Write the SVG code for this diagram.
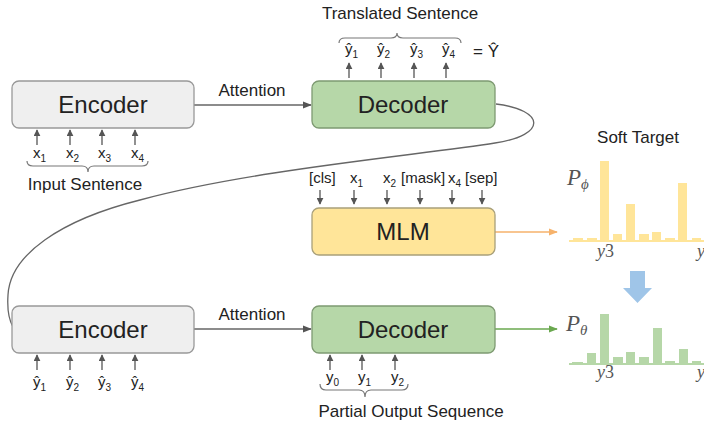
<svg xmlns="http://www.w3.org/2000/svg" width="704" height="425" viewBox="0 0 704 425">
<defs>
<marker id="ah" viewBox="0 0 10 10" refX="9" refY="5" markerWidth="7" markerHeight="7" markerUnits="userSpaceOnUse" orient="auto"><path d="M0,0 L10,5 L0,10 z" fill="#555"/></marker>
<marker id="ahs" viewBox="0 0 10 10" refX="9" refY="5" markerWidth="9" markerHeight="9" markerUnits="userSpaceOnUse" orient="auto"><path d="M0,1 L10,5 L0,9 z" fill="#555"/></marker>
<marker id="aho" viewBox="0 0 10 10" refX="9" refY="5" markerWidth="9" markerHeight="9" markerUnits="userSpaceOnUse" orient="auto"><path d="M0,1 L10,5 L0,9 z" fill="#f6b26b"/></marker>
<marker id="ahg" viewBox="0 0 10 10" refX="9" refY="5" markerWidth="9" markerHeight="9" markerUnits="userSpaceOnUse" orient="auto"><path d="M0,1 L10,5 L0,9 z" fill="#6aa84f"/></marker>
</defs>
<style>
text{font-family:"Liberation Sans",Arial,sans-serif;fill:#222}
.big{font-size:24px;text-anchor:middle}
.lbl{font-size:17px;text-anchor:middle}
.tok{font-size:15px}
.sub{font-size:10px}
.enc{fill:#efefef;stroke:#999;stroke-width:1.3}
.dec{fill:#b6d7a8;stroke:#7e9a72;stroke-width:1.3}
.mlm{fill:#ffe599;stroke:#a9a07a;stroke-width:1.3}
.ar{stroke:#555;stroke-width:1.3;fill:none;marker-end:url(#ah)}
.main{stroke:#666;stroke-width:1.3;fill:none}
.brace{stroke:#777;stroke-width:1.2;fill:none}
.math{font-family:"Liberation Serif","Times New Roman",serif;font-style:italic;fill:#555}
.yb{fill:#ffe599}
.gb{fill:#b6d7a8}
</style>

<g id="connectors">
<path class="main" d="M194,105 L311,105" marker-end="url(#ahs)"/>
<path class="main" d="M194,329 L311,329" marker-end="url(#ahs)"/>
<path class="main" d="M496,104 C545,110 548,135 495,143 C420,155 250,170 140,200 C60,220 10,255 8,295 C7,310 9,320 13,327"/>
<path d="M495,232 L557,232" stroke="#f6b26b" stroke-width="1.3" fill="none" marker-end="url(#aho)"/>
<path d="M495,329 L557,329" stroke="#6aa84f" stroke-width="1.3" fill="none" marker-end="url(#ahg)"/>
<path class="ar" d="M37,145 L37,130"/><path class="ar" d="M70,145 L70,130"/><path class="ar" d="M102,145 L102,130"/><path class="ar" d="M135,145 L135,130"/>
<path class="ar" d="M349,78 L349,63"/><path class="ar" d="M381,78 L381,63"/><path class="ar" d="M414,78 L414,63"/><path class="ar" d="M446,78 L446,63"/>
<path class="ar" d="M320,190 L320,204"/><path class="ar" d="M354,190 L354,204"/><path class="ar" d="M387,190 L387,204"/><path class="ar" d="M420,190 L420,204"/><path class="ar" d="M452,190 L452,204"/><path class="ar" d="M482,190 L482,204"/>
<path class="ar" d="M37,370 L37,355"/><path class="ar" d="M70,370 L70,355"/><path class="ar" d="M102,370 L102,355"/><path class="ar" d="M135,370 L135,355"/>
<path class="ar" d="M330,370 L330,355"/><path class="ar" d="M362,370 L362,355"/><path class="ar" d="M395,370 L395,355"/>
</g>

<text class="lbl" x="252" y="96">Attention</text>
<text class="lbl" x="252" y="320">Attention</text>

<g id="encoder-top">
<rect class="enc" x="12" y="81" width="182" height="47" rx="7"/>
<text class="big" x="103" y="113">Encoder</text>
</g>
<g id="decoder-top">
<rect class="dec" x="312" y="81" width="183" height="47" rx="7"/>
<text class="big" x="403" y="113">Decoder</text>
</g>
<g id="mlm">
<rect class="mlm" x="312" y="208" width="183" height="47" rx="7"/>
<text class="big" x="403" y="240">MLM</text>
</g>
<g id="encoder-bottom">
<rect class="enc" x="12" y="306" width="182" height="47" rx="7"/>
<text class="big" x="103" y="338">Encoder</text>
</g>
<g id="decoder-bottom">
<rect class="dec" x="312" y="306" width="183" height="47" rx="7"/>
<text class="big" x="403" y="338">Decoder</text>
</g>

<g id="input-sentence">
<text class="tok" x="33" y="158">x<tspan class="sub" dy="4">1</tspan></text>
<text class="tok" x="66" y="158">x<tspan class="sub" dy="4">2</tspan></text>
<text class="tok" x="98" y="158">x<tspan class="sub" dy="4">3</tspan></text>
<text class="tok" x="131" y="158">x<tspan class="sub" dy="4">4</tspan></text>
<path class="brace" d="M27,161 Q27,166 33,166 L82,166 Q88,166 88,172 Q88,166 94,166 L142,166 Q148,166 148,161"/>
<text class="lbl" x="85" y="190">Input Sentence</text>
</g>

<g id="translated-sentence">
<text class="lbl" x="400" y="19">Translated Sentence</text>
<path class="brace" d="M339,43 Q339,38 345,38 L391,38 Q397,38 397,33 Q397,38 403,38 L455,38 Q461,38 461,43"/>
<text class="tok" x="345" y="54">ŷ<tspan class="sub" dy="4">1</tspan></text>
<text class="tok" x="377" y="54">ŷ<tspan class="sub" dy="4">2</tspan></text>
<text class="tok" x="410" y="54">ŷ<tspan class="sub" dy="4">3</tspan></text>
<text class="tok" x="442" y="54">ŷ<tspan class="sub" dy="4">4</tspan></text>
<text x="473" y="57" font-size="17">= Ŷ</text>
</g>

<g id="mlm-inputs">
<text class="tok" x="309" y="183">[cls]</text>
<text class="tok" x="350" y="183">x<tspan class="sub" dy="4">1</tspan></text>
<text class="tok" x="383" y="183">x<tspan class="sub" dy="4">2</tspan></text>
<text class="tok" x="401" y="183">[mask]</text>
<text class="tok" x="448" y="183">x<tspan class="sub" dy="4">4</tspan></text>
<text class="tok" x="465" y="183">[sep]</text>
</g>

<g id="bottom-inputs">
<text class="tok" x="33" y="387">ŷ<tspan class="sub" dy="4">1</tspan></text>
<text class="tok" x="66" y="387">ŷ<tspan class="sub" dy="4">2</tspan></text>
<text class="tok" x="98" y="387">ŷ<tspan class="sub" dy="4">3</tspan></text>
<text class="tok" x="131" y="387">ŷ<tspan class="sub" dy="4">4</tspan></text>
</g>

<g id="partial-output">
<text class="tok" x="326" y="382">y<tspan class="sub" dy="4">0</tspan></text>
<text class="tok" x="358" y="382">y<tspan class="sub" dy="4">1</tspan></text>
<text class="tok" x="391" y="382">y<tspan class="sub" dy="4">2</tspan></text>
<path class="brace" d="M320,384 Q320,390 326,390 L359,390 Q365,390 365,397 Q365,390 371,390 L402,390 Q408,390 408,384"/>
<text class="lbl" x="411" y="417">Partial Output Sequence</text>
</g>

<g id="soft-target">
<text class="lbl" x="638" y="143">Soft Target</text>
<text class="math" x="567" y="185" font-size="23">P<tspan font-size="15" dy="4">ϕ</tspan></text>
<rect class="yb" x="569" y="240" width="135" height="2"/>
<rect class="yb" x="573" y="238" width="10" height="3"/>
<rect class="yb" x="587" y="238" width="10" height="3"/>
<rect class="yb" x="600" y="161" width="9" height="80"/>
<rect class="yb" x="613" y="234" width="9" height="7"/>
<rect class="yb" x="626" y="204" width="9" height="37"/>
<rect class="yb" x="639" y="234" width="10" height="7"/>
<rect class="yb" x="652" y="232" width="9" height="9"/>
<rect class="yb" x="665" y="238" width="10" height="3"/>
<rect class="yb" x="678" y="183" width="9" height="58"/>
<rect class="yb" x="692" y="238" width="9" height="3"/>
<text class="math" x="597" y="257" font-size="18">y<tspan font-style="normal">3</tspan></text>
<text class="math" x="697" y="257" font-size="18">y</text>
</g>

<g id="blue-arrow">
<path d="M630,271 L645,271 L645,288 L652,288 L637.5,303 L623,288 L630,288 z" fill="#9fc5e8"/>
</g>

<g id="student-dist">
<text class="math" x="566" y="331" font-size="23">P<tspan font-size="15" dy="4">θ</tspan></text>
<rect class="gb" x="569" y="363" width="135" height="2"/>
<rect class="gb" x="572" y="362" width="11" height="2"/>
<rect class="gb" x="587" y="353" width="9" height="11"/>
<rect class="gb" x="600" y="314" width="9" height="50"/>
<rect class="gb" x="613" y="357" width="10" height="7"/>
<rect class="gb" x="626" y="352" width="9" height="12"/>
<rect class="gb" x="639" y="357" width="10" height="7"/>
<rect class="gb" x="653" y="328" width="9" height="36"/>
<rect class="gb" x="665" y="361" width="10" height="3"/>
<rect class="gb" x="679" y="349" width="9" height="15"/>
<rect class="gb" x="692" y="361" width="9" height="3"/>
<text class="math" x="597" y="378" font-size="18">y<tspan font-style="normal">3</tspan></text>
<text class="math" x="697" y="378" font-size="18">y</text>
</g>
</svg>
